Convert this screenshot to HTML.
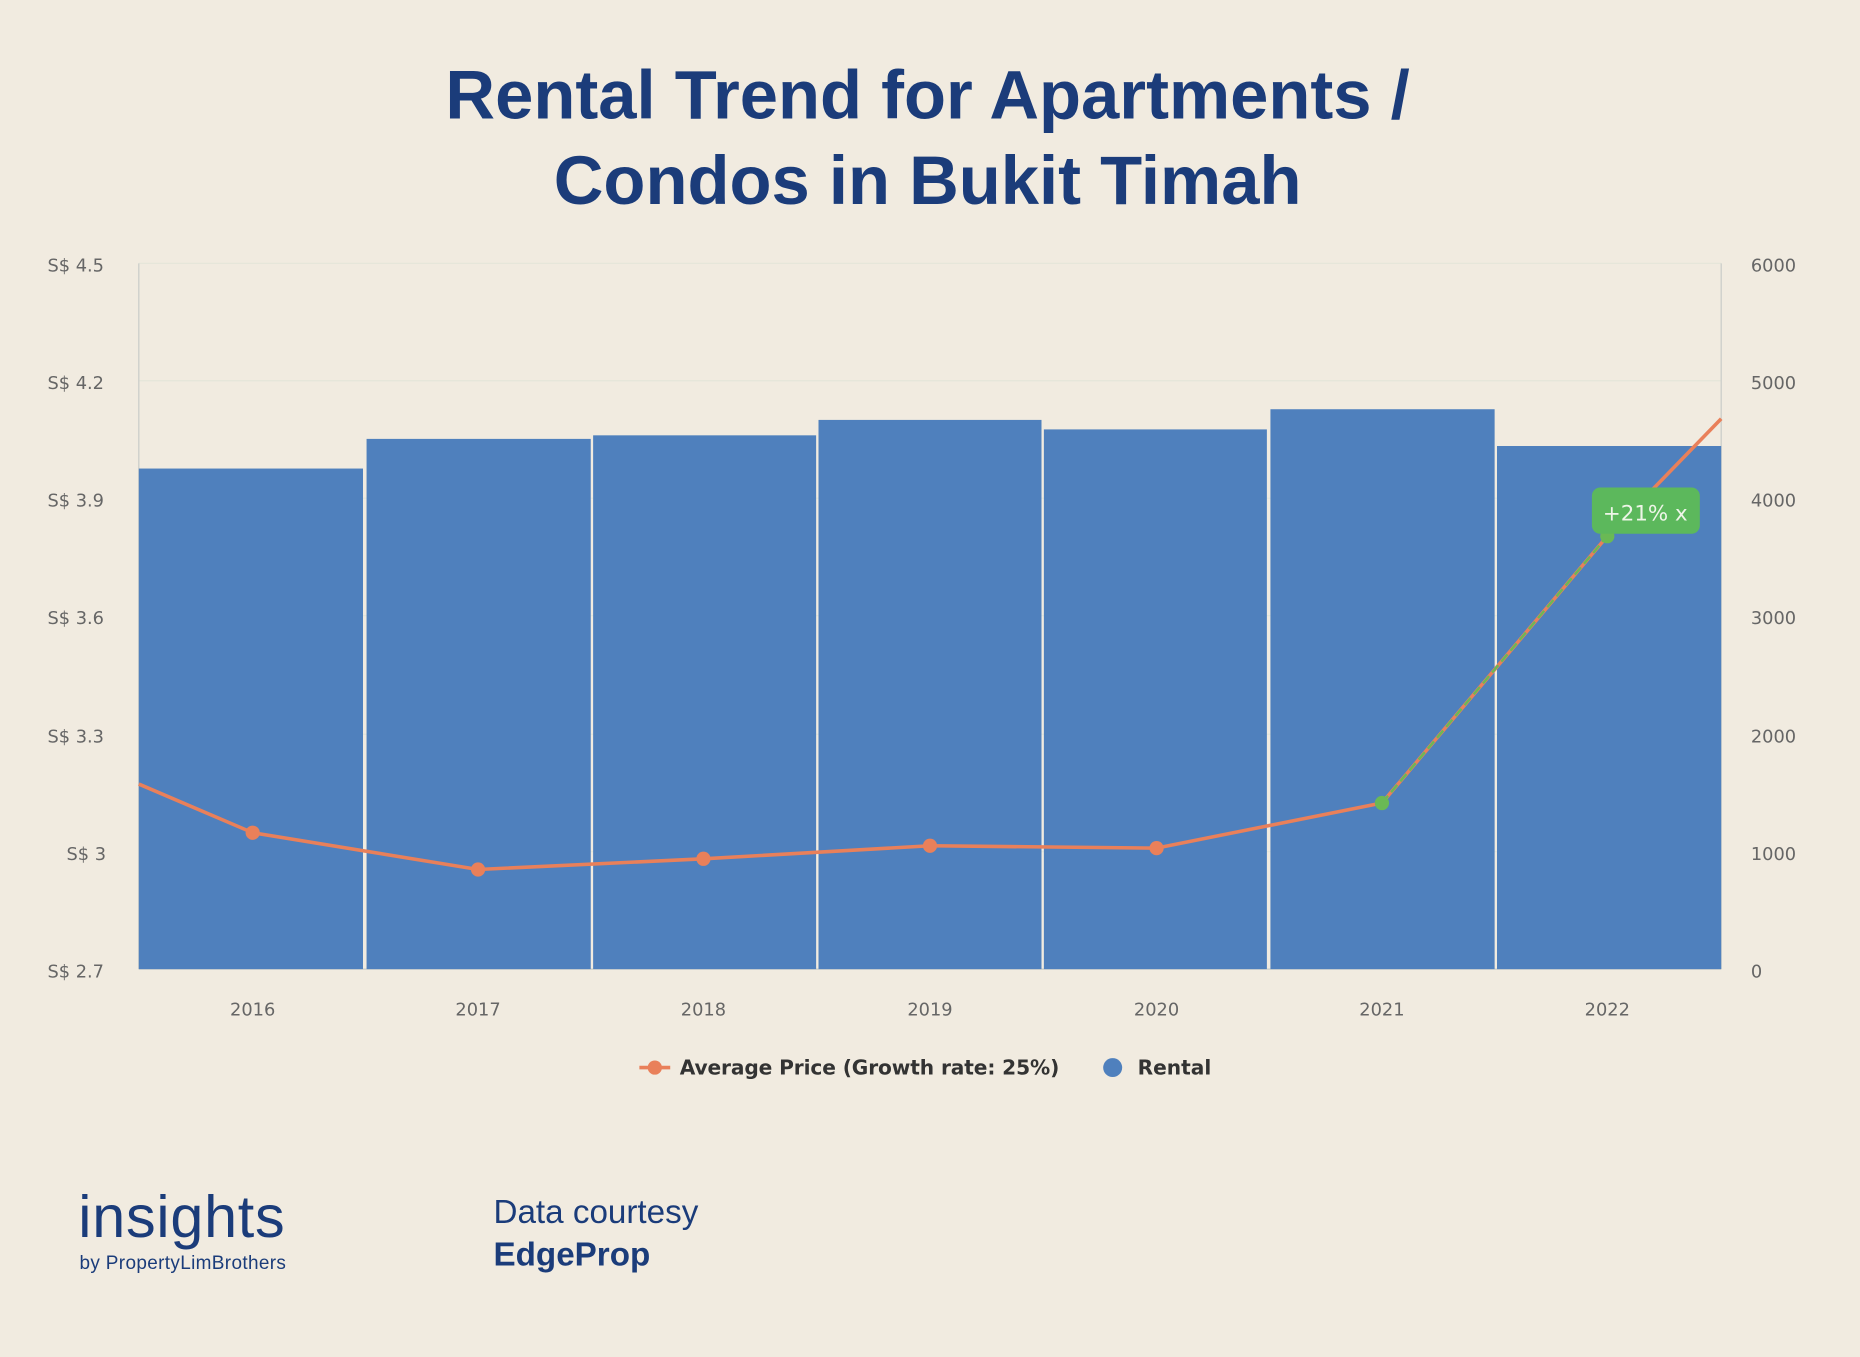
<!DOCTYPE html>
<html><head><meta charset="utf-8"><style>
html,body{margin:0;padding:0;background:#f1ebe0;}
svg{display:block;}
</style></head><body>
<svg width="1860" height="1357" viewBox="0 0 1568 1144" xmlns="http://www.w3.org/2000/svg" font-family="Liberation Sans, DejaVu Sans, sans-serif">
<rect width="1568" height="1144" fill="#f1ebe0"/>
<g fill="#1b3c7a" font-weight="bold" font-size="58" text-anchor="middle">
<text x="782" y="100">Rental Trend for Apartments /</text>
<text x="782" y="172">Condos in Bukit Timah</text>
</g>
<g stroke="#e4e6da" stroke-width="1">
<line x1="117" y1="222" x2="1451" y2="222"/><line x1="117" y1="321" x2="1451" y2="321"/>
<line x1="117" y1="420" x2="1451" y2="420"/><line x1="117" y1="519" x2="1451" y2="519"/>
<line x1="117" y1="619" x2="1451" y2="619"/><line x1="117" y1="718" x2="1451" y2="718"/>
</g>
<g stroke="#c8ccc8" stroke-width="1">
<line x1="117" y1="222" x2="117" y2="817"/><line x1="1451" y1="222" x2="1451" y2="817"/>
<line x1="117" y1="817" x2="1451" y2="817"/>
</g>
<g fill="#4f80bd">
<rect x="117" y="395" width="189" height="422"/>
<rect x="309" y="370" width="189" height="447"/>
<rect x="500" y="367" width="188" height="450"/>
<rect x="690" y="354" width="188" height="463"/>
<rect x="880" y="362" width="188" height="455"/>
<rect x="1071" y="345" width="189" height="472"/>
<rect x="1262" y="376" width="189" height="441"/>
</g>
<g fill="#666" font-size="15" font-family="DejaVu Sans, sans-serif">
<g text-anchor="start">
<text x="40" y="229">S$ 4.5</text><text x="40" y="328">S$ 4.2</text><text x="40" y="427">S$ 3.9</text>
<text x="40" y="526">S$ 3.6</text><text x="40" y="626">S$ 3.3</text><text x="56" y="725">S$ 3</text>
<text x="40" y="824">S$ 2.7</text>
<text x="1476" y="229">6000</text><text x="1476" y="328">5000</text><text x="1476" y="427">4000</text>
<text x="1476" y="526">3000</text><text x="1476" y="626">2000</text><text x="1476" y="725">1000</text>
<text x="1476" y="824">0</text>
</g>
<g text-anchor="middle">
<text x="213" y="856">2016</text><text x="403" y="856">2017</text><text x="593" y="856">2018</text>
<text x="784" y="856">2019</text><text x="975" y="856">2020</text><text x="1165" y="856">2021</text>
<text x="1355" y="856">2022</text>
</g>
</g>
<polyline points="117,661 213,702 403,733 593,724 784,713 975,715 1165,677" fill="none" stroke="#e9805a" stroke-width="3"/>
<line x1="1165" y1="677" x2="1355" y2="452" stroke="#e9805a" stroke-width="3"/>
<line x1="1165" y1="677" x2="1355" y2="452" stroke="#6ab955" stroke-width="2" stroke-dasharray="8 4"/>
<line x1="1355" y1="452" x2="1451" y2="353" stroke="#e9805a" stroke-width="3"/>
<g fill="#e9805a">
<circle cx="213" cy="702" r="6"/><circle cx="403" cy="733" r="6"/><circle cx="593" cy="724" r="6"/>
<circle cx="784" cy="713" r="6"/><circle cx="975" cy="715" r="6"/>
</g>
<circle cx="1165" cy="677" r="6" fill="#6ab955"/>
<circle cx="1355" cy="452" r="6" fill="#6ab955"/>
<rect x="1342" y="411" width="91" height="39" rx="7" fill="#5cb85c"/>
<text x="1387" y="439" fill="#eef5e8" font-size="18" text-anchor="middle" font-family="DejaVu Sans, sans-serif">+21% x</text>
<line x1="539" y1="900" x2="565" y2="900" stroke="#e9805a" stroke-width="3"/>
<circle cx="552" cy="900" r="6" fill="#e9805a"/>
<text x="573" y="906" font-size="17" font-weight="bold" fill="#333" font-family="DejaVu Sans, sans-serif" textLength="320">Average Price (Growth rate: 25%)</text>
<circle cx="938" cy="900" r="8" fill="#4f80bd"/>
<text x="959" y="906" font-size="17" font-weight="bold" fill="#333" font-family="DejaVu Sans, sans-serif">Rental</text>
<text x="66" y="1043" font-size="50" fill="#1b3c7a" textLength="174">insights</text>
<text x="67" y="1070" font-size="16" fill="#1b3c7a" textLength="174">by PropertyLimBrothers</text>
<text x="416" y="1031" font-size="28" fill="#1b3c7a">Data courtesy</text>
<text x="416" y="1067" font-size="28" font-weight="bold" fill="#1b3c7a">EdgeProp</text>
</svg>
</body></html>
